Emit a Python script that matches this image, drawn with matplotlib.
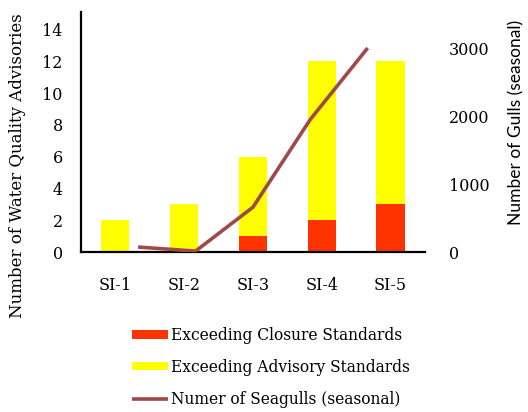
import matplotlib.pyplot as plt
import numpy as np

plt.rcParams['font.family'] = ['DejaVu Serif']

sites = ['SI-1', 'SI-2', 'SI-3', 'SI-4', 'SI-5']
closure = [0, 0, 1, 2, 3]
advisory = [2, 3, 5, 10, 9]
gulls = [75, 15, 660, 1950, 3000]

red = '#FF3300'
yellow = '#FFFF00'
brown = '#9E4A48'

W, H = 528, 412
fig = plt.figure(figsize=(5.28, 4.12), dpi=100)
ax = fig.add_axes([0.153, 0.388, 0.652, 0.583])

x = np.arange(len(sites))
b1 = ax.bar(x, closure, width=0.41, color=red, label='Exceeding Closure Standards')
b2 = ax.bar(x, advisory, width=0.41, bottom=closure, color=yellow,
            label='Exceeding Advisory Standards')
ax.set_xlim(-0.5, 4.5)
ax.set_ylim(0, 15.1)
ax.set_yticks(range(0, 15, 2))
ax.set_xticks(x)
ax.set_xticklabels(sites)
ax.tick_params(axis='y', length=0, labelsize=11.5, pad=13)
ax.tick_params(axis='x', length=0, labelsize=11.5, pad=18)
ax.spines['top'].set_visible(False)
ax.spines['right'].set_visible(False)
ax.spines['bottom'].set_linewidth(1.6)
ax.spines['left'].set_linewidth(1.6)

# seagull line on its own x scale
ax2 = fig.add_axes(ax.get_position(), frameon=False)
ax2.patch.set_visible(False)
l, = ax2.plot(np.arange(1, 6), gulls, color=brown, lw=2.6,
              label='Numer of Seagulls (seasonal)', solid_capstyle='butt')
ax2.set_xlim(0, 6)
ax2.set_ylim(0, 3530)
ax2.set_xticks([])
ax2.yaxis.tick_right()
ax2.set_yticks([0, 1000, 2000, 3000])
ax2.tick_params(length=0, labelsize=11.5, pad=17)
for s in ['top', 'left', 'bottom']:
    ax2.spines[s].set_visible(False)
ax2.spines['right'].set_visible(True)
ax2.spines['right'].set_linewidth(1.6)

fig.text(18 / W, 1 - 166 / H, 'Number of Water Quality Advisories', rotation=90,
         ha='center', va='center', fontsize=12)
fig.text(516 / W, 1 - 122 / H, 'Number of Gulls (seasonal)', rotation=90,
         ha='center', va='center', fontsize=12.5, family=['Lato', 'DejaVu Sans'])

fig.legend(handles=[b1, b2, l], loc='upper left', bbox_to_anchor=(0.235, 0.225),
           frameon=False, fontsize=11.2, handlelength=2.3, handleheight=0.45,
           handletextpad=0.2, labelspacing=0.95, borderpad=0)

fig.savefig('out.png', dpi=100)
